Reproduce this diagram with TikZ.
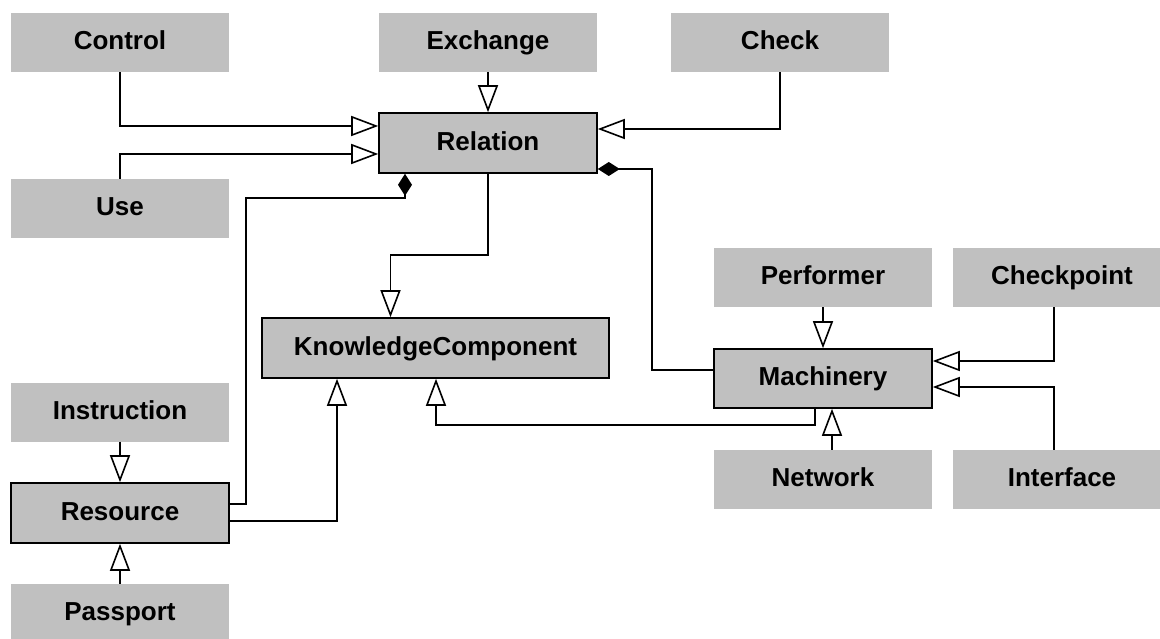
\documentclass[tikz,border=0pt]{standalone}
\usepackage{fontspec}
\setmainfont{Liberation Sans}
\usetikzlibrary{arrows.meta,calc}
\definecolor{boxgray}{HTML}{C0C0C0}
\tikzset{
  plainbox/.style={fill=boxgray, minimum width=218pt, minimum height=59pt, inner sep=0pt,
    text height=18.6pt, text depth=4pt, font=\fontsize{26}{30}\selectfont\bfseries},
  mainbox/.style={plainbox, draw=black, line width=1.6pt, minimum height=60pt},
  conn/.style={line width=1.6pt, draw=black},
  inh/.style={conn, -{Triangle[length=27pt,width=20pt,fill=white,line width=1.6pt]}},
  comp/.style={conn, {Diamond[length=22pt,width=14pt]}-}
}
\begin{document}
\begin{tikzpicture}[x=1pt,y=-1pt]
\clip (0,0) rectangle (1160,639);
\fill[white] (0,0) rectangle (1160,639);
% nodes
\node[plainbox] (ctrl) at (120,42.5) {Control};
\node[plainbox] (exch) at (488,42.5) {Exchange};
\node[plainbox] (check) at (780,42.5) {Check};
\node[mainbox] (rel) at (488,143) {Relation};
\node[plainbox] (use) at (120,208.5) {Use};
\node[mainbox, minimum width=347pt] (kc) at (435.5,348) {KnowledgeComponent};
\node[plainbox] (instr) at (120,412) {Instruction};
\node[mainbox] (res) at (120,513) {Resource};
\node[plainbox] (pass) at (120,613.5) {Passport};
\node[plainbox] (perf) at (823,277.5) {Performer};
\node[plainbox] (chp) at (1062,277.5) {Checkpoint};
\node[mainbox, minimum height=59pt] (mach) at (823,378.5) {Machinery};
\node[plainbox] (net) at (823,479.5) {Network};
\node[plainbox] (intf) at (1062,479.5) {Interface};
% connectors
\draw[inh] (ctrl.south) |- ($(rel.west)+(0,-17)$);
\draw[inh] (use.north) |- ($(rel.west)+(0,11)$);
\draw[inh] (exch.south) -- (rel.north);
\draw[inh] (check.south) |- ($(rel.east)+(0,-14)$);
\coordinate (kcin) at ($(kc.north)+(-45,0)$);
\draw[inh] (rel.south) -- ++(0,81) -| (kcin);
\coordinate (kcres) at ($(kc.south)+(-98.5,0)$);
\draw[inh] ($(res.east)+(0,8)$) -| (kcres);
\coordinate (kcmach) at ($(kc.south)+(0.5,0)$);
\draw[inh] ($(mach.south)+(-8,0)$) -- ++(0,16) -| (kcmach);
\draw[comp] ($(rel.south)+(-83,0)$) -- ++(0,24) -| ($(res.east)+(16,-9)$) -- ($(res.east)+(0,-9)$);
\draw[comp] ($(rel.east)+(0,26)$) -| ($(mach.west)+(-61,-8.5)$) -- ($(mach.west)+(0,-8.5)$);
\draw[inh] (perf.south) -- (mach.north);
\draw[inh] ($(net.north)+(9,0)$) -- ($(mach.south)+(9,0)$);
\draw[inh] ($(chp.south)+(-8,0)$) |- ($(mach.east)+(0,-17.5)$);
\draw[inh] ($(intf.north)+(-8,0)$) |- ($(mach.east)+(0,8.5)$);
\draw[inh] (instr.south) -- (res.north);
\draw[inh] (pass.north) -- (res.south);
\end{tikzpicture}
\end{document}
